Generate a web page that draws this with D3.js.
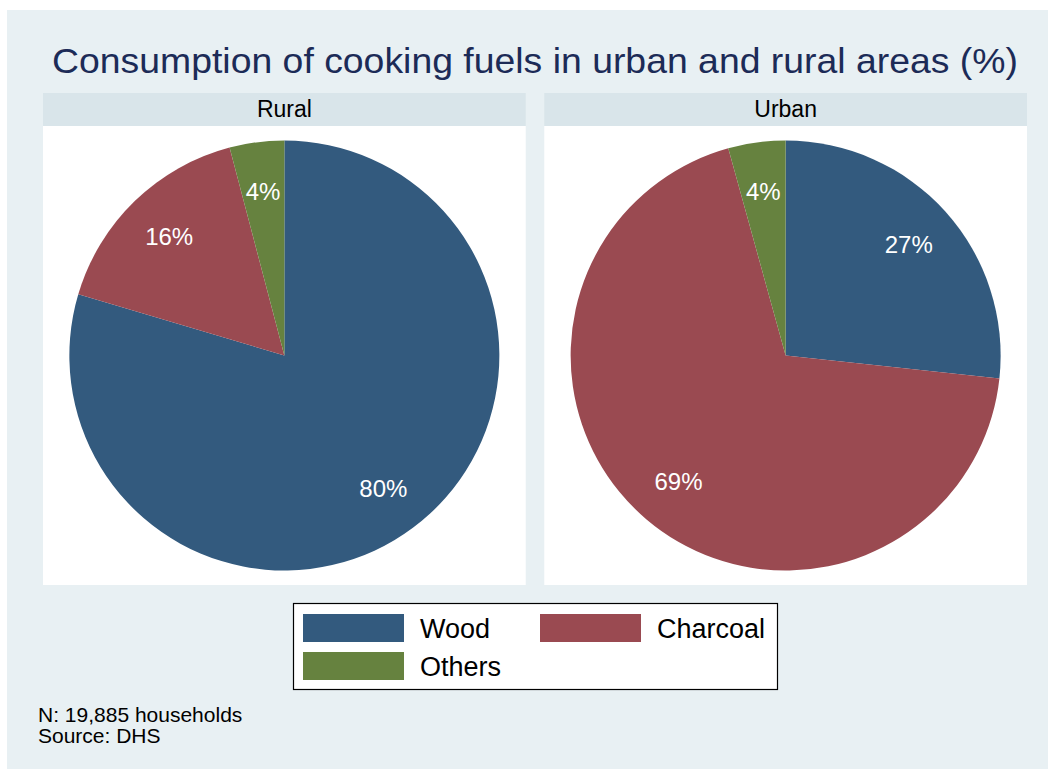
<!DOCTYPE html>
<html>
<head>
<meta charset="utf-8">
<script src="https://cdn.jsdelivr.net/npm/d3@7"></script>
<style>
  body { margin: 0; background: #ffffff; }
  text { font-family: "Liberation Sans", Arial, sans-serif; }
</style>
</head>
<body>
<div id="chart"></div>
<script>
// data
var fuels = ["Wood", "Charcoal", "Others"];
var areas = ["Rural", "Urban"];
var ruralShares = [79.6, 16.3, 4.1];
var urbanShares = [26.7, 69.0, 4.3];
var fuelColors = ["#335a7e", "#9a4a51", "#66823f"];
var notes = ["N: 19,885 households", "Source: DHS"];

var width = 1048, height = 769;

var svg = d3.select("#chart").append("svg")
    .attr("width", width)
    .attr("height", height);

// outer background
svg.append("rect")
    .attr("x", 7).attr("y", 10)
    .attr("width", width - 7).attr("height", height - 10)
    .attr("fill", "#e8f0f3");

svg.append("text")
    .attr("x", 535).attr("y", 73)
    .attr("text-anchor", "middle")
    .attr("font-size", 35)
    .attr("textLength", 966)
    .attr("lengthAdjust", "spacingAndGlyphs")
    .attr("fill", "#1c2b57")
    .text("Consumption of cooking fuels in urban and rural areas (%)");

var color = d3.scaleOrdinal().domain(fuels).range(fuelColors);

// panels
var panelX = d3.scaleBand().domain(areas).range([43, 1027]).paddingInner(0.037);
var panelTop = 93, headH = 33, panelBottom = 585;
var radius = 215;

var pie = d3.pie().sort(null).value(function(d) { return d.value; });
var arc = d3.arc().innerRadius(0).outerRadius(radius);
var labelArc = d3.arc().innerRadius(radius * 0.77).outerRadius(radius * 0.77);

var allShares = { Rural: ruralShares, Urban: urbanShares };

areas.forEach(function(area) {
    var x0 = panelX(area), w = panelX.bandwidth();
    var g = svg.append("g");

    g.append("rect")
        .attr("x", x0).attr("y", panelTop)
        .attr("width", w).attr("height", headH)
        .attr("fill", "#d9e5ea");
    g.append("text")
        .attr("x", x0 + w / 2).attr("y", panelTop + 24)
        .attr("text-anchor", "middle")
        .attr("font-size", 23)
        .attr("fill", "#000")
        .text(area);

    g.append("rect")
        .attr("x", x0).attr("y", panelTop + headH)
        .attr("width", w).attr("height", panelBottom - panelTop - headH)
        .attr("fill", "#ffffff");

    var data = fuels.map(function(f, i) { return { fuel: f, value: allShares[area][i] }; });
    var cx = x0 + w / 2, cy = (panelTop + headH + panelBottom) / 2;
    var pg = g.append("g").attr("transform", "translate(" + cx + "," + cy + ")");

    pg.selectAll("path")
        .data(pie(data))
        .enter().append("path")
        .attr("d", arc)
        .attr("fill", function(d) { return color(d.data.fuel); });

    pg.selectAll("text")
        .data(pie(data))
        .enter().append("text")
        .attr("transform", function(d) { return "translate(" + labelArc.centroid(d) + ")"; })
        .attr("text-anchor", "middle")
        .attr("dy", "0.35em")
        .attr("font-size", 24)
        .attr("fill", "#ffffff")
        .text(function(d) { return Math.round(d.data.value) + "%"; });
});

// legend
var legend = svg.append("g");
legend.append("rect")
    .attr("x", 293.5).attr("y", 603.5)
    .attr("width", 484).attr("height", 86)
    .attr("fill", "#ffffff")
    .attr("stroke", "#000")
    .attr("stroke-width", 1.2);

var legX = [303, 540, 303], legY = [614, 614, 652];
fuels.forEach(function(f, i) {
    legend.append("rect")
        .attr("x", legX[i]).attr("y", legY[i])
        .attr("width", 101).attr("height", 28)
        .attr("fill", color(f));
    legend.append("text")
        .attr("x", legX[i] + 117).attr("y", legY[i] + 24)
        .attr("font-size", 27)
        .attr("fill", "#000")
        .text(f);
});

// notes
svg.selectAll(".note")
    .data(notes)
    .enter().append("text")
    .attr("class", "note")
    .attr("x", 38)
    .attr("y", function(d, i) { return 722 + i * 21; })
    .attr("font-size", 21)
    .attr("fill", "#000")
    .text(function(d) { return d; });
</script>
</body>
</html>
